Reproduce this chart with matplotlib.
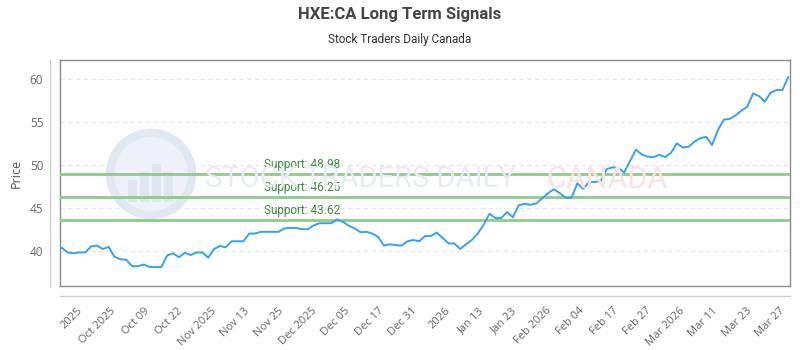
import matplotlib
matplotlib.use("Agg")
import matplotlib.pyplot as plt
from matplotlib.lines import Line2D
from matplotlib.patches import Circle, Rectangle
import numpy as np

# daily closes
price = [40.35, 39.8, 39.7, 39.8, 39.8, 40.5, 40.6, 40.2, 40.45, 39.3,
         39.0, 38.95, 38.2, 38.2, 38.4, 38.1, 38.1, 38.1, 39.45, 39.7,
         39.25, 39.75, 39.5, 39.8, 39.8, 39.2, 40.2, 40.55, 40.4, 41.1,
         41.1, 41.1, 42.0, 42.0, 42.2, 42.2, 42.2, 42.2, 42.6, 42.65,
         42.65, 42.5, 42.5, 42.95, 43.2, 43.2, 43.2, 43.65, 43.35, 42.9,
         42.6, 42.15, 42.2, 42.0, 41.6, 40.6, 40.75, 40.65, 40.6, 41.1,
         41.25, 41.1, 41.7, 41.7, 42.1, 41.5, 40.85, 40.85, 40.2, 40.75,
         41.25, 42.0, 43.0, 44.3, 43.8, 43.8, 44.5, 43.9, 45.3, 45.45,
         45.35, 45.5, 46.1, 46.7, 47.15, 46.7, 46.15, 46.15, 47.85, 47.2,
         48.0, 48.0, 48.1, 49.5, 49.7, 49.65, 49.1, 50.45, 51.75, 51.2,
         50.95, 50.9, 51.15, 50.9, 51.4, 52.5, 52.0, 52.1, 52.7, 53.1,
         53.25, 52.3, 54.05, 55.25, 55.35, 55.75, 56.3, 56.75, 58.3, 58.0,
         57.35, 58.4, 58.7, 58.7, 60.2]

supports = [48.98, 46.25, 43.62]

tick_labels = ["2025", "Oct 2025", "Oct 09", "Oct 22", "Nov 2025", "Nov 13",
               "Nov 25", "Dec 2025", "Dec 05", "Dec 17", "Dec 31", "2026",
               "Jan 13", "Jan 23", "Feb 2026", "Feb 04", "Feb 17", "Feb 27",
               "Mar 2026", "Mar 11", "Mar 23", "Mar 27"]

cond = ["Roboto", "DejaVu Sans"]
plain = ["Open Sans", "DejaVu Sans"]

fig = plt.figure(figsize=(8, 3.5), dpi=100)
ax = fig.add_axes([0.075, 0.183, 0.9125, 0.6457])

x = np.arange(len(price))
ax.plot(x, price, color="#36a2eb", lw=1.4, zorder=4)

for s in supports:
    ax.axhline(s, color="#8fcb8a", lw=2, zorder=3)
    ax.text(34.5, s + 0.35, "Support: %.2f" % s, color="#3d8b3d",
            fontsize=8.5, family=cond, va="bottom", ha="left", zorder=5)

ax.set_xlim(-0.3, len(price) - 0.7)
ax.set_ylim(35.9, 62.2)
ax.set_yticks([40, 45, 50, 55, 60])
ax.yaxis.grid(True, color="#e6e6e6", lw=0.8, ls=(0, (4, 3)))
ax.set_axisbelow(True)

# ticks are spread evenly along the category axis
tick_pos = 2.6 + 5.71 * np.arange(len(tick_labels))
ax.set_xticks(tick_pos)
ax.set_xticklabels(tick_labels, rotation=45, ha="right", rotation_mode="anchor",
                   fontsize=8, family=plain, color="#666666")
for lab in ax.get_yticklabels():
    lab.set_family(plain)
ax.tick_params(axis="y", length=0, pad=12, labelsize=8.5, labelcolor="#666666")
ax.tick_params(axis="x", length=0, pad=14)
ax.set_ylabel("Price", fontsize=9, family=plain, color="#555555", labelpad=5)

for sp in ax.spines.values():
    sp.set_color("#8a8a8a")
    sp.set_linewidth(1)

# watermark
ax.add_patch(Circle((151, 176), 41, transform=None, facecolor="#eef2f8",
                    edgecolor="#e2e8f2", lw=6, zorder=1))
for bx, bh in [(128, 22), (140, 30), (152, 38), (164, 30)]:
    ax.add_patch(Rectangle((bx, 350 - 202), 9, bh, transform=None,
                           facecolor="#e0e6f0", edgecolor="none", zorder=1))
fig.text(205 / 800, 1 - 179 / 350, "STOCK TRADERS DAILY", fontsize=21,
         family=cond, color="#e8edf4", va="center", ha="left", zorder=0)
fig.text(546 / 800, 1 - 179 / 350, "CANADA", fontsize=22, family=cond,
         color="#fbe3e3", va="center", ha="left", zorder=0)

# outer axis rules
fig.add_artist(Line2D([50 / 800, 50 / 800], [1 - 60 / 350, 1 - 287 / 350],
                      color="#cccccc", lw=1))
fig.add_artist(Line2D([60 / 800, 790 / 800], [1 - 296 / 350, 1 - 296 / 350],
                      color="#cccccc", lw=1))

fig.text(0.5, 1 - 15 / 350, "HXE:CA Long Term Signals", fontsize=12,
         fontweight="bold", family=cond, color="#444444", ha="center", va="center")
fig.text(0.5, 1 - 40 / 350, "Stock Traders Daily Canada", fontsize=8.5,
         family=cond, color="#333333", ha="center", va="center")

fig.savefig("out.png", dpi=100)
